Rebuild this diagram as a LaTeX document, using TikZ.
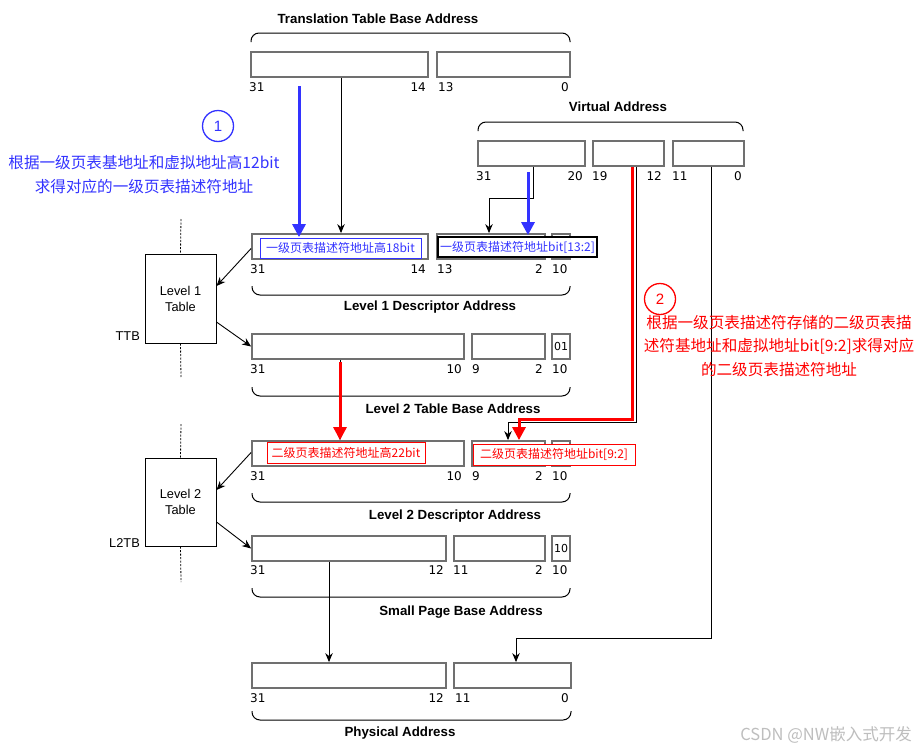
\documentclass[tikz,border=0pt]{standalone}
\usepackage{fontspec}
\setmainfont{Liberation Sans}
\newfontfamily\numfont{DejaVu Sans}
\newfontfamily\cjk{Noto Sans CJK SC}
\usetikzlibrary{arrows.meta}
\definecolor{boxgray}{RGB}{112,112,112}
\definecolor{annblue}{RGB}{51,51,255}
\definecolor{annred}{RGB}{255,0,0}
\definecolor{wmgray}{RGB}{190,190,190}
\newcommand\rbox[6]{\node[reg, minimum width={#4-#2}, minimum height={#5-#3}] (#1) at ({(#2+#4)/2},{(#3+#5)/2}) {#6};}
\newcommand\lbox[7]{\node[#6, minimum width={#4-#2}, minimum height={#5-#3}] (#1) at ({(#2+#4)/2},{(#3+#5)/2}) {#7};}
\tikzset{
  reg/.style={draw=boxgray, line width=1.8pt, fill=white, inner sep=0pt, font=\numfont\fontsize{11}{11}\selectfont},
  num/.style={font=\numfont\fontsize{12}{12}\selectfont, inner sep=0pt},
  ttl/.style={font=\bfseries\fontsize{13.3}{14}\selectfont, inner sep=0pt},
  tbl/.style={draw=black, line width=1pt, inner sep=0pt, align=center, font=\fontsize{12.8}{16}\selectfont},
  conn/.style={draw=black, line width=0.9pt},
  arr/.style={conn, -{Stealth[length=9pt,width=7.5pt]}},
  bluearr/.style={draw=annblue, line width=3pt, -{Triangle[length=13pt,width=13pt]}},
  redarr/.style={draw=annred, line width=3pt, -{Triangle[length=13pt,width=13pt]}},
  brc/.style={draw=black, line width=1pt, rounded corners=8pt},
  dsh/.style={draw=black, line width=0.8pt, dash pattern=on 2pt off 1.5pt},
  lblue/.style={draw=annblue, line width=1pt, fill=white, inner sep=0pt, text=annblue, font=\cjk\fontsize{12}{12}\selectfont},
  lblack/.style={draw=black, line width=1.4pt, fill=white, inner sep=0pt, text=annblue, font=\cjk\fontsize{12}{12}\selectfont},
  lred/.style={draw=annred, line width=1pt, fill=white, inner sep=0pt, text=annred, font=\cjk\fontsize{12}{12}\selectfont},
  ann/.style={font=\cjk\fontsize{15.6}{23.5}\selectfont, align=center, inner sep=0pt},
  circ/.style={circle, line width=1.3pt, minimum size=31pt, inner sep=0pt, font=\fontsize{15}{15}\selectfont},
}
\begin{document}
\begin{tikzpicture}[x=1pt,y=-1pt]
\useasboundingbox (0,0) rectangle (916,750);
\fill[white] (0,0) rectangle (916,750);

% ---- titles
\node[ttl] (tTTB) at (378,19) {Translation Table Base Address};
\node[ttl] (tVA) at (618,107) {Virtual Address};
\node[ttl] (tL1D) at (430,307) {Level 1 Descriptor Address};
\node[ttl] (tL2T) at (453,409) {Level 2 Table Base Address};
\node[ttl] (tL2D) at (455,516) {Level 2 Descriptor Address};
\node[ttl] (tSP) at (461,612) {Small Page Base Address};
\node[ttl] (tPA) at (400,733) {Physical Address};

% ---- braces
\draw[brc] (251,42) -- (251,33) -- (570,33) -- (570,42);
\draw[brc] (478,131) -- (478,122) -- (743,122) -- (743,131);
\draw[brc] (252,286) -- (252,295) -- (570,295) -- (570,286);
\draw[brc] (252,387) -- (252,396) -- (570,396) -- (570,387);
\draw[brc] (252,493) -- (252,502) -- (570,502) -- (570,493);
\draw[brc] (252,588) -- (252,597) -- (570,597) -- (570,588);
\draw[brc] (252,711) -- (252,720) -- (571,720) -- (571,711);

% ---- register boxes
\rbox{ttb1}{251}{52}{428}{77}{}
\rbox{ttb2}{437}{52}{570}{77}{}
\rbox{va1}{478}{141}{585}{166}{}
\rbox{va2}{593}{141}{664}{166}{}
\rbox{va3}{673}{141}{744}{166}{}
\rbox{l1a}{252}{234}{428}{259}{}
\rbox{l1b}{437}{234}{545}{259}{}
\rbox{l1c}{552}{234}{570}{259}{}
\rbox{tb1}{252}{334}{464}{359}{}
\rbox{tb2}{472}{334}{545}{359}{}
\rbox{tb3}{552}{334}{570}{359}{01}
\rbox{l2a}{252}{441}{464}{466}{}
\rbox{l2b}{472}{441}{545}{466}{}
\rbox{l2c}{552}{441}{570}{466}{}
\rbox{sp1}{252}{536}{446}{561}{}
\rbox{sp2}{454}{536}{545}{561}{}
\rbox{sp3}{552}{536}{570}{561}{10}
\rbox{pa1}{252}{663}{446}{688}{}
\rbox{pa2}{454}{663}{571}{688}{}

% ---- bit numbers
\node[num,anchor=west] (n1) at (249,87) {31};
\node[num,anchor=east] (n2) at (426,87) {14};
\node[num,anchor=west] (n3) at (438,87) {13};
\node[num,anchor=east] (n4) at (569,87) {0};
\node[num,anchor=west] (n5) at (476,176) {31};
\node[num,anchor=east] (n6) at (583,176) {20};
\node[num,anchor=west] (n7) at (592,176) {19};
\node[num,anchor=east] (n8) at (662,176) {12};
\node[num,anchor=west] (n9) at (672,176) {11};
\node[num,anchor=east] (n10) at (742,176) {0};
\node[num,anchor=west] (n11) at (250,269) {31};
\node[num,anchor=east] (n12) at (426,269) {14};
\node[num,anchor=west] (n13) at (437,269) {13};
\node[num,anchor=east] (n14) at (543,269) {2};
\node[num,anchor=west] (n15) at (552,269) {10};
\node[num,anchor=west] (n16) at (250,369) {31};
\node[num,anchor=east] (n17) at (462,369) {10};
\node[num,anchor=west] (n18) at (472,369) {9};
\node[num,anchor=east] (n19) at (543,369) {2};
\node[num,anchor=west] (n20) at (552,369) {10};
\node[num,anchor=west] (n21) at (250,476) {31};
\node[num,anchor=east] (n22) at (462,476) {10};
\node[num,anchor=west] (n23) at (472,476) {9};
\node[num,anchor=east] (n24) at (543,476) {2};
\node[num,anchor=west] (n25) at (552,476) {10};
\node[num,anchor=west] (n26) at (250,570) {31};
\node[num,anchor=east] (n27) at (444,570) {12};
\node[num,anchor=west] (n28) at (453,570) {11};
\node[num,anchor=east] (n29) at (543,570) {2};
\node[num,anchor=west] (n30) at (552,570) {10};
\node[num,anchor=west] (n31) at (250,698) {31};
\node[num,anchor=east] (n32) at (444,698) {12};
\node[num,anchor=west] (n33) at (455,698) {11};
\node[num,anchor=east] (n34) at (569,698) {0};

% ---- tables
\node[tbl, minimum width=71pt, minimum height=89pt] (T1) at (180.5,298.5) {Level 1\\Table};
\node[tbl, minimum width=71pt, minimum height=88pt] (T2) at (180.5,502) {Level 2\\Table};
\node[anchor=east, inner sep=0pt, font=\fontsize{12.8}{13}\selectfont] (ttb) at (140,336) {TTB};
\node[anchor=east, inner sep=0pt, font=\fontsize{12.8}{13}\selectfont] (l2tb) at (140,543) {L2TB};
\coordinate (d1) at (181,219);
\coordinate (d2) at (181,378);
\coordinate (d3) at (181,424);
\coordinate (d4) at (181,582);
\draw[dsh] (d1) -- (T1.north);
\draw[dsh] (T1.south) -- (d2);
\draw[dsh] (d3) -- (T2.north);
\draw[dsh] (T2.south) -- (d4);

% ---- helper x positions
\coordinate (x341) at (341,0);
\coordinate (x299) at (299,0);
\coordinate (x533) at (533,0);
\coordinate (x489) at (489,0);
\coordinate (x528) at (528,0);
\coordinate (x636) at (636,0);
\coordinate (x508) at (508,0);
\coordinate (x632) at (632,0);
\coordinate (x519) at (519,0);
\coordinate (x711) at (711,0);
\coordinate (x516) at (516,0);
\coordinate (x340) at (340,0);
\coordinate (x329) at (329,0);
\coordinate (bstart) at (299,86);
\coordinate (b2start) at (528,172);
\coordinate (rstart) at (340,362);

% ---- black connectors
\draw[arr] (ttb1.south -| x341) -- (l1a.north -| x341);
\draw[arr] (va1.south -| x533) -- (533,198) -- (489,198) -- (l1b.north -| x489);
\draw[arr] (va2.south -| x636) -- (636,422) -- (508,422) -- (l2b.north -| x508);
\draw[arr] (va3.south -| x711) -- (711,638) -- (516,638) -- (pa2.north -| x516);
\draw[arr] (tb1.south -| x340) -- (l2a.north -| x340);
\draw[arr] (sp1.south -| x329) -- (pa1.north -| x329);
\draw[arr] (l1a.west) ++(0,2) -- (T1.east |- 0,286);
\draw[arr] (T1.east |- 0,322) -- (tb1.west);
\draw[arr] (l2a.west) ++(0,-1) -- (T2.east |- 0,490);
\draw[arr] (T2.east |- 0,522) -- (sp1.west);

% ---- coloured arrows
\draw[bluearr] (bstart) -- ([yshift=-4pt]l1a.north -| x299);
\draw[bluearr] (b2start) -- ([yshift=-2pt]l1b.north -| x528);
\draw[annred, line width=3pt] (va2.south -| x632) -- (632,419) -- (519,419) -- (519,424);
\draw[redarr] (519,418) -- (l2b.north -| x519);
\draw[redarr] (rstart) -- (l2a.north -| x340);

% ---- label boxes
\lbox{lb1}{260}{238}{421}{258}{lblue}{一级页表描述符地址高18bit}
\lbox{lb2}{438}{237}{597}{257}{lblack}{一级页表描述符地址bit[13:2]}
\lbox{lr1}{267}{442}{425}{463}{lred}{二级页表描述符地址高22bit}
\lbox{lr2}{473}{444}{635}{465}{lred}{二级页表描述符地址bit[9:2]}

% ---- annotations
\node[circ, draw=annblue, text=annblue] (c1) at (218,126) {1};
\node[ann, text=annblue] (a1) at (144,174.5) {根据一级页表基地址和虚拟地址高12bit\\求得对应的一级页表描述符地址};
\node[circ, draw=annred, text=annred] (c2) at (660,299) {2};
\node[ann, text=annred] (a2) at (779,346) {根据一级页表描述符存储的二级页表描\\述符基地址和虚拟地址bit[9:2]求得对应\\的二级页表描述符地址};

% ---- watermark
\node[anchor=east, inner sep=0pt, text=wmgray, font=\cjk\fontsize{16.5}{16}\selectfont] (wm) at (912,735) {CSDN @NW嵌入式开发};
\end{tikzpicture}
\end{document}
